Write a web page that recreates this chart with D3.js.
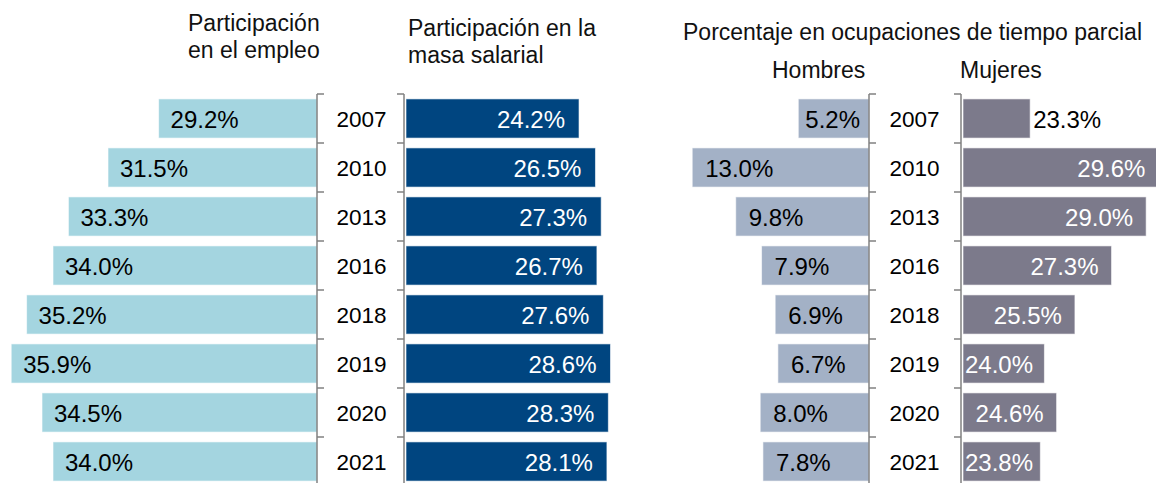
<!DOCTYPE html>
<html>
<head>
<meta charset="utf-8">
<script src="https://cdn.jsdelivr.net/npm/d3@7"></script>
<style>
  body { margin: 0; background: #fff; }
  text { font-family: "Liberation Sans", Arial, sans-serif; }
  .title { font-size: 23px; fill: #111; }
  .year { font-size: 22.5px; fill: #000; }
  .val { font-size: 24px; }
</style>
</head>
<body>
<div class="viz"></div>
<script>

	// Data
	var years = ['2007', '2010', '2013', '2016', '2018', '2019', '2020', '2021'];
	var empleo = [29.2, 31.5, 33.3, 34.0, 35.2, 35.9, 34.5, 34.0];
	var masaSalarial = [24.2, 26.5, 27.3, 26.7, 27.6, 28.6, 28.3, 28.1];
	var hombres = [5.2, 13.0, 9.8, 7.9, 6.9, 6.7, 8.0, 7.8];
	var mujeres = [23.3, 29.6, 29.0, 27.3, 25.5, 24.0, 24.6, 23.8];

	var width = 1156, height = 483;

	var svg = d3.select('.viz')
		.append('svg')
		.attr('width', width)
		.attr('height', height);

	// shared row scale
	var yScale = d3.scaleBand()
		.domain(years)
		.range([94, 486])
		.paddingInner(0.2)
		.paddingOuter(0.1);

	var step = yScale.step();

	// Scales for each group of bars
	var xEmpleo = d3.scaleLinear().domain([22, 36]).range([317, 9]);
	var xMasa = d3.scaleLinear().domain([0, 30]).range([406, 620.5]);
	var xHombres = d3.scaleLinear().domain([0, 14]).range([869, 678.6]);
	var xMujeres = d3.scaleLinear().domain([20, 30]).range([963, 1166.5]);

	function fmt(v) { return v.toFixed(1) + '%'; }

	function rowY(i) { return yScale(years[i]); }
	function rowMid(i) { return yScale(years[i]) + yScale.bandwidth() / 2; }

	// bars that grow to the left from the axis
	function leftBars(values, scale, color, cls) {
		svg.append('g').attr('class', cls)
			.selectAll('rect')
			.data(values)
			.enter().append('rect')
			.attr('x', function(d) { return scale(d); })
			.attr('y', function(d, i) { return rowY(i); })
			.attr('width', function(d) { return scale.range()[0] - scale(d); })
			.attr('height', yScale.bandwidth())
			.attr('fill', color)
			.attr('stroke', 'rgba(255,255,255,0.6)')
			.attr('stroke-width', 1);
	}

	// bars that grow to the right from the axis
	function rightBars(values, scale, color, cls) {
		svg.append('g').attr('class', cls)
			.selectAll('rect')
			.data(values)
			.enter().append('rect')
			.attr('x', scale.range()[0])
			.attr('y', function(d, i) { return rowY(i); })
			.attr('width', function(d) { return scale(d) - scale.range()[0]; })
			.attr('height', yScale.bandwidth())
			.attr('fill', color)
			.attr('stroke', 'rgba(255,255,255,0.6)')
			.attr('stroke-width', 1);
	}

	leftBars(empleo, xEmpleo, '#a4d5e0', 'empleo');
	rightBars(masaSalarial, xMasa, '#004580', 'masa');
	leftBars(hombres, xHombres, '#a3b1c6', 'hombres');
	rightBars(mujeres, xMujeres, '#7c7a8b', 'mujeres');

	// axis with bracket ticks, dir = +1 ticks to the right, -1 to the left
	function bracketAxis(x, dir) {
		var g = svg.append('g').attr('class', 'axis')
			.attr('stroke', '#808080')
			.attr('stroke-width', 1.5);
		var top = yScale.range()[0];
		g.append('line')
			.attr('x1', x).attr('x2', x)
			.attr('y1', top).attr('y2', yScale.range()[1]);
		g.selectAll('.tick')
			.data(years)
			.enter().append('line')
			.attr('class', 'tick')
			.attr('x1', x).attr('x2', x + dir * 7)
			.attr('y1', function(d) { return yScale(d) - step * 0.1; })
			.attr('y2', function(d) { return yScale(d) - step * 0.1; });
	}

	bracketAxis(317, 1);
	bracketAxis(404, -1);
	bracketAxis(869, 1);
	bracketAxis(961, -1);

	// year labels between the axes
	function yearLabels(cx) {
		svg.append('g')
			.selectAll('text')
			.data(years)
			.enter().append('text')
			.attr('class', 'year')
			.attr('x', cx)
			.attr('y', function(d, i) { return rowMid(i); })
			.attr('dy', '0.38em')
			.attr('text-anchor', 'middle')
			.text(function(d) { return d; });
	}
	yearLabels(361.5);
	yearLabels(914.5);

	// value labels
	// empleo: inside, near the far end
	svg.append('g').selectAll('text')
		.data(empleo)
		.enter().append('text')
		.attr('class', 'val')
		.attr('x', function(d) { return xEmpleo(d) + 12; })
		.attr('y', function(d, i) { return rowMid(i); })
		.attr('dy', '0.4em')
		.attr('fill', '#000')
		.text(fmt);

	// masa salarial: white, right aligned at the end
	svg.append('g').selectAll('text')
		.data(masaSalarial)
		.enter().append('text')
		.attr('class', 'val')
		.attr('x', function(d) { return xMasa(d) - 14; })
		.attr('y', function(d, i) { return rowMid(i); })
		.attr('dy', '0.4em')
		.attr('text-anchor', 'end')
		.attr('fill', '#fff')
		.text(fmt);

	// hombres: inside, pushed toward axis when bar is short
	svg.append('g').selectAll('text')
		.data(hombres)
		.enter().append('text')
		.attr('class', 'val')
		.attr('y', function(d, i) { return rowMid(i); })
		.attr('dy', '0.4em')
		.attr('fill', '#000')
		.text(fmt)
		.each(function(d) {
			var w = this.getComputedTextLength();
			var x = Math.min(xHombres(d) + 13, 869 - 9 - w);
			d3.select(this).attr('x', x);
		});

	// mujeres: white inside end, outside black if bar too short
	svg.append('g').selectAll('text')
		.data(mujeres)
		.enter().append('text')
		.attr('class', 'val')
		.attr('y', function(d, i) { return rowMid(i); })
		.attr('dy', '0.4em')
		.text(fmt)
		.each(function(d) {
			var w = this.getComputedTextLength();
			var barW = xMujeres(d) - 963;
			var t = d3.select(this);
			if (barW < 70) {
				t.attr('x', xMujeres(d) + 3).attr('fill', '#000');
			} else {
				var x = Math.max(xMujeres(d) - 13 - w, 965);
				t.attr('x', x).attr('fill', '#fff');
			}
		});

	// titles
	function title(x, y, str, anchor) {
		svg.append('text')
			.attr('class', 'title')
			.attr('x', x)
			.attr('y', y)
			.attr('text-anchor', anchor || 'start')
			.text(str);
	}
	title(188, 31, 'Participación');
	title(188, 58, 'en el empleo');
	title(408, 36, 'Participación en la');
	title(408, 63, 'masa salarial');
	title(683, 40, 'Porcentaje en ocupaciones de tiempo parcial');
	title(772, 78, 'Hombres');
	title(960, 78, 'Mujeres');

</script>
</body>
</html>
